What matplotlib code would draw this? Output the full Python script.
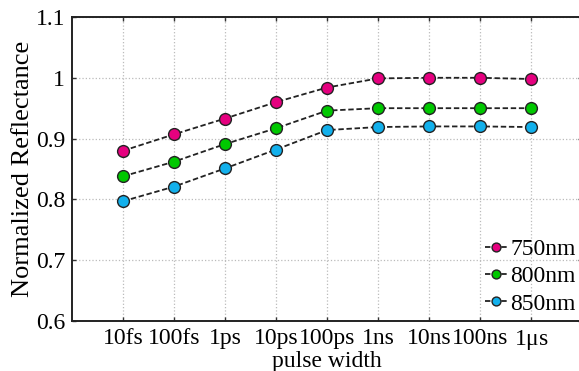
import matplotlib
matplotlib.use("Agg")
import matplotlib.pyplot as plt
import numpy as np

#-- data
pulse_labels = ['10fs', '100fs', '1ps', '10ps', '100ps', '1ns', '10ns', '100ns', r'1$\mathregular{\mu}$s']
r750 = [0.880, 0.907, 0.933, 0.960, 0.984, 0.999, 1.000, 1.000, 0.998]
r800 = [0.838, 0.862, 0.891, 0.917, 0.946, 0.950, 0.950, 0.950, 0.950]
r850 = [0.797, 0.821, 0.851, 0.882, 0.914, 0.919, 0.920, 0.920, 0.919]
series_names = ['750nm', '800nm', '850nm']

plt.rcParams['font.family'] = 'Liberation Serif'
plt.rcParams['mathtext.fontset'] = 'custom'
plt.rcParams['mathtext.rm'] = 'Liberation Serif'

fig = plt.figure(figsize=(5.79, 3.71), dpi=100)
ax = fig.add_axes([0.1244, 0.1348, 0.881, 0.8194])

x = np.arange(1, len(pulse_labels) + 1)
colors = ['#e5007f', '#00c800', '#12b0ec']
for y, c, name in zip([r750, r800, r850], colors, series_names):
    ax.plot(x, y, '--', color='#222222', linewidth=1.3, dashes=(3, 1.5),
            marker='o', markersize=8.5, markerfacecolor=c,
            markeredgecolor='#222222', markeredgewidth=1.0, label=name)

ax.set_xlim(0, 10)
ax.set_ylim(0.6, 1.1)
ax.set_xticks(x)
ax.set_xticklabels(pulse_labels)
ax.set_yticks([0.6, 0.7, 0.8, 0.9, 1.0, 1.1])
ax.set_yticklabels(['0.6', '0.7', '0.8', '0.9', '1', '1.1'])
ax.tick_params(direction='in', top=True, right=True, labelsize=17, length=3, pad=5,
               width=1.0, color='#333333')
ax.grid(color='#bbbbbb', linestyle=':', linewidth=0.9)
for s in ax.spines.values():
    s.set_linewidth(1.4)
    s.set_color('#222222')

ax.set_xlabel('pulse width', fontsize=17, labelpad=-1)
ax.set_ylabel('Normalized Reflectance', fontsize=19, labelpad=1)

leg = ax.legend(loc='lower right', bbox_to_anchor=(1.01, -0.018), frameon=False,
                fontsize=17, handlelength=0.9, handletextpad=0.15,
                labelspacing=0.25, borderaxespad=0.1, markerscale=0.75)

fig.savefig('out.png', dpi=100)
